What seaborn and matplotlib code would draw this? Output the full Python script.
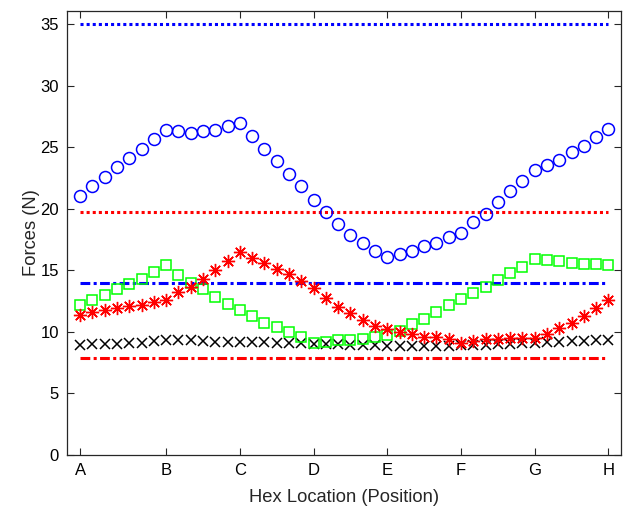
import numpy as np
import pandas as pd
import matplotlib
matplotlib.use("Agg")
import matplotlib.pyplot as plt
import seaborn as sns

# ---- data ----
tick_labels = ["A", "B", "C", "D", "E", "F", "G", "H"]
tick_positions = [0, 7, 13, 19, 25, 31, 37, 43]
positions = list(range(44))

blue_circles = [21.05, 21.85, 22.6, 23.4, 24.1, 24.9, 25.7, 26.4, 26.3, 26.2,
                26.3, 26.4, 26.7, 27.0, 25.9, 24.9, 23.9, 22.85, 21.85, 20.75,
                19.7, 18.75, 17.9, 17.2, 16.6, 16.1, 16.3, 16.6, 16.95, 17.25,
                17.7, 18.0, 18.9, 19.6, 20.55, 21.45, 22.3, 23.15, 23.6, 24.0,
                24.6, 25.1, 25.8, 26.45]
red_stars = [11.4, 11.6, 11.8, 11.9, 12.1, 12.2, 12.45, 12.6, 13.2, 13.65,
             14.3, 15.0, 15.75, 16.5, 16.0, 15.6, 15.1, 14.7, 14.15, 13.55,
             12.75, 12.05, 11.5, 10.95, 10.5, 10.25, 10.0, 9.8, 9.6, 9.55,
             9.4, 9.1, 9.25, 9.4, 9.45, 9.5, 9.5, 9.5, 9.8, 10.3,
             10.75, 11.3, 11.9, 12.6]
green_squares = [12.17, 12.6, 13.0, 13.45, 13.9, 14.3, 14.85, 15.4, 14.65, 14.0,
                 13.45, 12.8, 12.25, 11.75, 11.25, 10.75, 10.4, 10.0, 9.55, 9.1,
                 9.2, 9.3, 9.3, 9.45, 9.55, 9.7, 10.1, 10.65, 11.0, 11.6,
                 12.15, 12.7, 13.15, 13.65, 14.2, 14.75, 15.3, 15.95, 15.85, 15.75,
                 15.6, 15.5, 15.5, 15.4]
black_x = [8.95, 9.0, 9.0, 9.0, 9.05, 9.1, 9.25, 9.3, 9.3, 9.3,
           9.25, 9.2, 9.2, 9.2, 9.15, 9.15, 9.1, 9.1, 9.05, 9.0,
           9.0, 9.0, 8.95, 8.9, 8.9, 8.85, 8.85, 8.85, 8.85, 8.85,
           8.85, 8.9, 8.9, 8.95, 9.0, 9.0, 9.05, 9.1, 9.2, 9.2,
           9.25, 9.25, 9.3, 9.35]

blue_dotted_level = 35.0
red_dotted_level = 19.7
blue_dashdot_level = 14.0
red_dashdot_level = 7.9

# ---- style ----
sns.set_theme(style="white")
plt.rcParams["font.family"] = ["Liberation Sans", "DejaVu Sans"]

fig = plt.figure(figsize=(6.34, 5.15), dpi=100)
ax = fig.add_axes([0.106, 0.117, 0.873, 0.862])

df = pd.DataFrame({"pos": positions, "blue": blue_circles, "red": red_stars,
                   "green": green_squares, "black": black_x})

# horizontal reference lines
xs = [positions[0], positions[-1]]
for lvl, col, ls in [(blue_dotted_level, "#0000FF", (0, (1, 1))),
                     (red_dotted_level, "#FF0000", (0, (1, 1))),
                     (blue_dashdot_level, "#0000FF", (0, (3.2, 1.1, 1, 1.1))),
                     (red_dashdot_level, "#FF0000", (0, (3.2, 1.1, 1, 1.1)))]:
    sns.lineplot(x=xs, y=[lvl, lvl], ax=ax, color=col, linestyle=ls, lw=2.2)

asterisk = (8, 2, 0)
sns.lineplot(data=df, x="pos", y="black", ax=ax, linestyle="", marker="x",
             color="black", mec="black", ms=7.5, mew=1.1)
sns.lineplot(data=df, x="pos", y="green", ax=ax, linestyle="", marker="s",
             color="#00FF00", mfc="none", mec="#00FF00", ms=7.6, mew=1.1)
sns.lineplot(data=df, x="pos", y="red", ax=ax, linestyle="", marker=asterisk,
             color="#FF0000", mec="#FF0000", ms=9.5, mew=1.0)
sns.lineplot(data=df, x="pos", y="blue", ax=ax, linestyle="", marker="o",
             color="#0000FF", mfc="none", mec="#0000FF", ms=8.6, mew=1.1)

ax.set_xlim(-1.05, 44.0)
ax.set_ylim(0, 36.1)
ax.set_xticks(tick_positions)
ax.set_xticklabels(tick_labels)
ax.set_yticks(np.arange(0, 36, 5))
ax.set_xlabel("Hex Location (Position)", fontsize=13.2, color="#262626", labelpad=8)
ax.set_ylabel("Forces (N)", fontsize=13.2, color="#262626", labelpad=0)
ax.tick_params(direction="in", length=5, width=0.8, colors="#262626",
               labelsize=12, top=True, right=True, bottom=True, left=True,
               labelcolor="black", pad=6)
for s in ax.spines.values():
    s.set_visible(True)
    s.set_color("#262626")
    s.set_linewidth(0.9)
ax.grid(False)

fig.savefig("out.png", dpi=100)
